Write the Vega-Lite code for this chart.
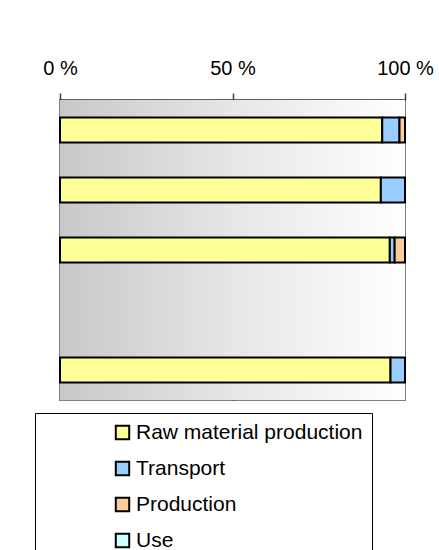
{
  "$schema": "https://vega.github.io/schema/vega-lite/v6.json",
  "width": 345,
  "height": 300,
  "autosize": {"type": "none"},
  "padding": {"left": 60, "top": 100, "right": 34, "bottom": 150},
  "background": "white",
  "config": {
    "font": "Liberation Sans",
    "view": {"stroke": "#808080", "strokeWidth": 2}
  },
  "datasets": {
    "bars": [
      {"item": "A", "stage": "Raw material production", "share": 93.4},
      {"item": "A", "stage": "Transport", "share": 5.0},
      {"item": "A", "stage": "Production", "share": 1.6},
      {"item": "A", "stage": "Use", "share": 0.0},
      {"item": "B", "stage": "Raw material production", "share": 93.0},
      {"item": "B", "stage": "Transport", "share": 7.0},
      {"item": "B", "stage": "Production", "share": 0.0},
      {"item": "B", "stage": "Use", "share": 0.0},
      {"item": "C", "stage": "Raw material production", "share": 95.6},
      {"item": "C", "stage": "Transport", "share": 1.4},
      {"item": "C", "stage": "Production", "share": 3.0},
      {"item": "C", "stage": "Use", "share": 0.0},
      {"item": "E", "stage": "Raw material production", "share": 95.8},
      {"item": "E", "stage": "Transport", "share": 4.2},
      {"item": "E", "stage": "Production", "share": 0.0},
      {"item": "E", "stage": "Use", "share": 0.0}
    ],
    "bg": [{"x0": 0, "x1": 100}]
  },
  "layer": [
    {
      "data": {"name": "bg"},
      "mark": {
        "type": "rect",
        "color": {
          "gradient": "linear",
          "x1": 0, "y1": 0, "x2": 1, "y2": 0,
          "stops": [
            {"offset": 0, "color": "#c8c8c8"},
            {"offset": 0.5, "color": "#e6e6e6"},
            {"offset": 1, "color": "#ffffff"}
          ]
        }
      },
      "encoding": {
        "x": {"field": "x0", "type": "quantitative", "scale": {"domain": [0, 100]}},
        "x2": {"field": "x1"}
      }
    },
    {
      "data": {"name": "bars"},
      "mark": {"type": "bar", "stroke": "black", "strokeWidth": 2},
      "encoding": {
        "y": {
          "field": "item",
          "type": "nominal",
          "scale": {"domain": ["A", "B", "C", "D", "E"], "paddingInner": 0.58, "paddingOuter": 0.29},
          "axis": null
        },
        "x": {
          "field": "share",
          "type": "quantitative",
          "stack": "zero",
          "scale": {"domain": [0, 100], "nice": false},
          "axis": {
            "orient": "top",
            "values": [0, 50, 100],
            "labelExpr": "datum.value + ' %'",
            "labelFontSize": 20,
            "labelColor": "black",
            "labelPadding": 15,
            "labelFlush": false,
            "labelOverlap": false,
            "labelBound": false,
            "labelFont": "Liberation Sans",
            "tickSize": 7,
            "tickColor": "#404040",
            "tickWidth": 1.5,
            "domainColor": "#404040",
            "domainWidth": 2,
            "grid": true,
            "gridColor": {"condition": {"test": "datum.value === 50", "value": "black"}, "value": "transparent"},
            "gridWidth": 1.2,
            "gridOpacity": 1,
            "title": null
          }
        },
        "color": {
          "field": "stage",
          "type": "nominal",
          "sort": ["Raw material production", "Transport", "Production", "Use"],
          "scale": {
            "domain": ["Raw material production", "Transport", "Production", "Use"],
            "range": ["#ffff99", "#99ccff", "#ffcc99", "#ccffff"]
          },
          "legend": {
            "orient": "none",
            "legendX": -25,
            "legendY": 313,
            "direction": "vertical",
            "title": null,
            "strokeColor": "black",
            "padding": 9,
            "symbolOffset": 68,
            "symbolType": "square",
            "symbolSize": 180,
            "symbolStrokeColor": "black",
            "symbolStrokeWidth": 2,
            "labelFontSize": 21,
            "labelFont": "Liberation Sans",
            "labelColor": "black",
            "labelOffset": 3,
            "labelLimit": 400,
            "rowPadding": 13
          }
        },
        "order": {"field": "stage_order", "type": "quantitative"}
      }
    }
  ]
}
